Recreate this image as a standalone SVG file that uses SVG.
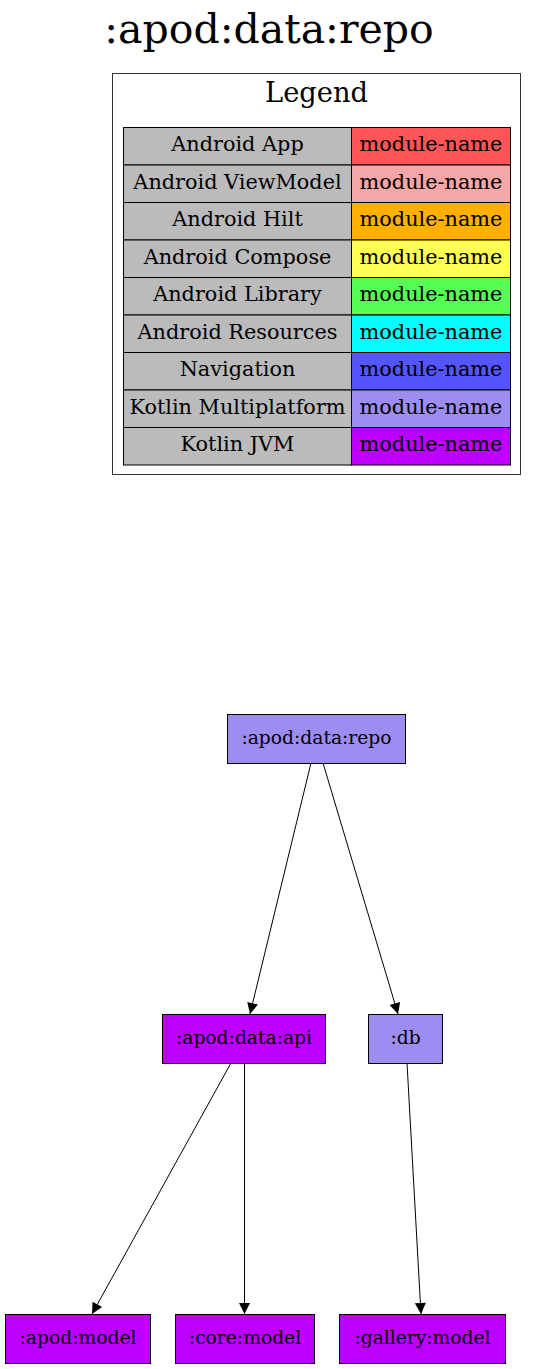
<svg xmlns="http://www.w3.org/2000/svg" width="538" height="1369" viewBox="0 0 538 1369">
<defs>
<style>
text{font-family:"DejaVu Serif","Liberation Serif",serif;fill:#000;}
.t{font-size:18.7px;text-anchor:middle;}
.l{font-size:20.8px;text-anchor:middle;}
.cell{stroke:#000;stroke-width:1;}
.g{fill:#bbbbbb;}
.node{stroke:#000;stroke-width:1;}
.edge{stroke:#000;stroke-width:1;fill:none;}
</style>
<marker id="ah" viewBox="0 0 10 10" refX="10" refY="5" markerWidth="15" markerHeight="11" markerUnits="userSpaceOnUse" orient="auto">
<path d="M0,0 L10,5 L0,10 Z" fill="#000"/>
</marker>
</defs>
<rect width="538" height="1369" fill="#fff"/>
<text x="269" y="43" style="font-size:41px;text-anchor:middle">:apod:data:repo</text>
<g id="legend">
<rect x="112.5" y="73.5" width="408" height="401" fill="#fff" stroke="#333" stroke-width="1"/>
<text x="316.5" y="101.5" style="font-size:27.3px;text-anchor:middle">Legend</text>
<rect class="cell g" x="123.5" y="127.5" width="228" height="37.5"/>
<rect class="cell" x="351.5" y="127.5" width="159" height="37.5" fill="#ff5555"/>
<text class="l" x="237.5" y="151">Android App</text><text class="l" x="431" y="151">module-name</text>
<rect class="cell g" x="123.5" y="165" width="228" height="37.5"/>
<rect class="cell" x="351.5" y="165" width="159" height="37.5" fill="#f5a6a6"/>
<text class="l" x="237.5" y="188.5">Android ViewModel</text><text class="l" x="431" y="188.5">module-name</text>
<rect class="cell g" x="123.5" y="202.5" width="228" height="37.5"/>
<rect class="cell" x="351.5" y="202.5" width="159" height="37.5" fill="#ffb000"/>
<text class="l" x="237.5" y="226">Android Hilt</text><text class="l" x="431" y="226">module-name</text>
<rect class="cell g" x="123.5" y="240" width="228" height="37.5"/>
<rect class="cell" x="351.5" y="240" width="159" height="37.5" fill="#ffff55"/>
<text class="l" x="237.5" y="263.5">Android Compose</text><text class="l" x="431" y="263.5">module-name</text>
<rect class="cell g" x="123.5" y="277.5" width="228" height="37.5"/>
<rect class="cell" x="351.5" y="277.5" width="159" height="37.5" fill="#55ff55"/>
<text class="l" x="237.5" y="301">Android Library</text><text class="l" x="431" y="301">module-name</text>
<rect class="cell g" x="123.5" y="315" width="228" height="37.5"/>
<rect class="cell" x="351.5" y="315" width="159" height="37.5" fill="#00ffff"/>
<text class="l" x="237.5" y="338.5">Android Resources</text><text class="l" x="431" y="338.5">module-name</text>
<rect class="cell g" x="123.5" y="352.5" width="228" height="37.5"/>
<rect class="cell" x="351.5" y="352.5" width="159" height="37.5" fill="#5555ff"/>
<text class="l" x="237.5" y="376">Navigation</text><text class="l" x="431" y="376">module-name</text>
<rect class="cell g" x="123.5" y="390" width="228" height="37.5"/>
<rect class="cell" x="351.5" y="390" width="159" height="37.5" fill="#9d8df1"/>
<text class="l" x="237.5" y="413.5">Kotlin Multiplatform</text><text class="l" x="431" y="413.5">module-name</text>
<rect class="cell g" x="123.5" y="427.5" width="228" height="37.5"/>
<rect class="cell" x="351.5" y="427.5" width="159" height="37.5" fill="#bb00ff"/>
<text class="l" x="237.5" y="451">Kotlin JVM</text><text class="l" x="431" y="451">module-name</text>
</g>
<g id="edges">
<path class="edge" d="M311,763 L250,1014" marker-end="url(#ah)"/>
<path class="edge" d="M323,763 L398,1014" marker-end="url(#ah)"/>
<path class="edge" d="M231,1063 L92,1314" marker-end="url(#ah)"/>
<path class="edge" d="M244.5,1063 L244.5,1314" marker-end="url(#ah)"/>
<path class="edge" d="M407,1063 L421,1314" marker-end="url(#ah)"/>
</g>
<g id="n-repo"><rect class="node" x="227.5" y="714.5" width="178" height="49" fill="#9d8df1"/><text class="t" x="316.5" y="744">:apod:data:repo</text></g>
<g id="n-api"><rect class="node" x="162.5" y="1014.5" width="163" height="49" fill="#bb00ff"/><text class="t" x="244" y="1044">:apod:data:api</text></g>
<g id="n-db"><rect class="node" x="368.5" y="1014.5" width="74" height="49" fill="#9d8df1"/><text class="t" x="405.5" y="1044">:db</text></g>
<g id="n-apodmodel"><rect class="node" x="5.5" y="1314.5" width="145" height="49" fill="#bb00ff"/><text class="t" x="78" y="1344">:apod:model</text></g>
<g id="n-coremodel"><rect class="node" x="175.5" y="1314.5" width="139" height="49" fill="#bb00ff"/><text class="t" x="245" y="1344">:core:model</text></g>
<g id="n-gallerymodel"><rect class="node" x="339.5" y="1314.5" width="166" height="49" fill="#bb00ff"/><text class="t" x="422.5" y="1344">:gallery:model</text></g>
</svg>
